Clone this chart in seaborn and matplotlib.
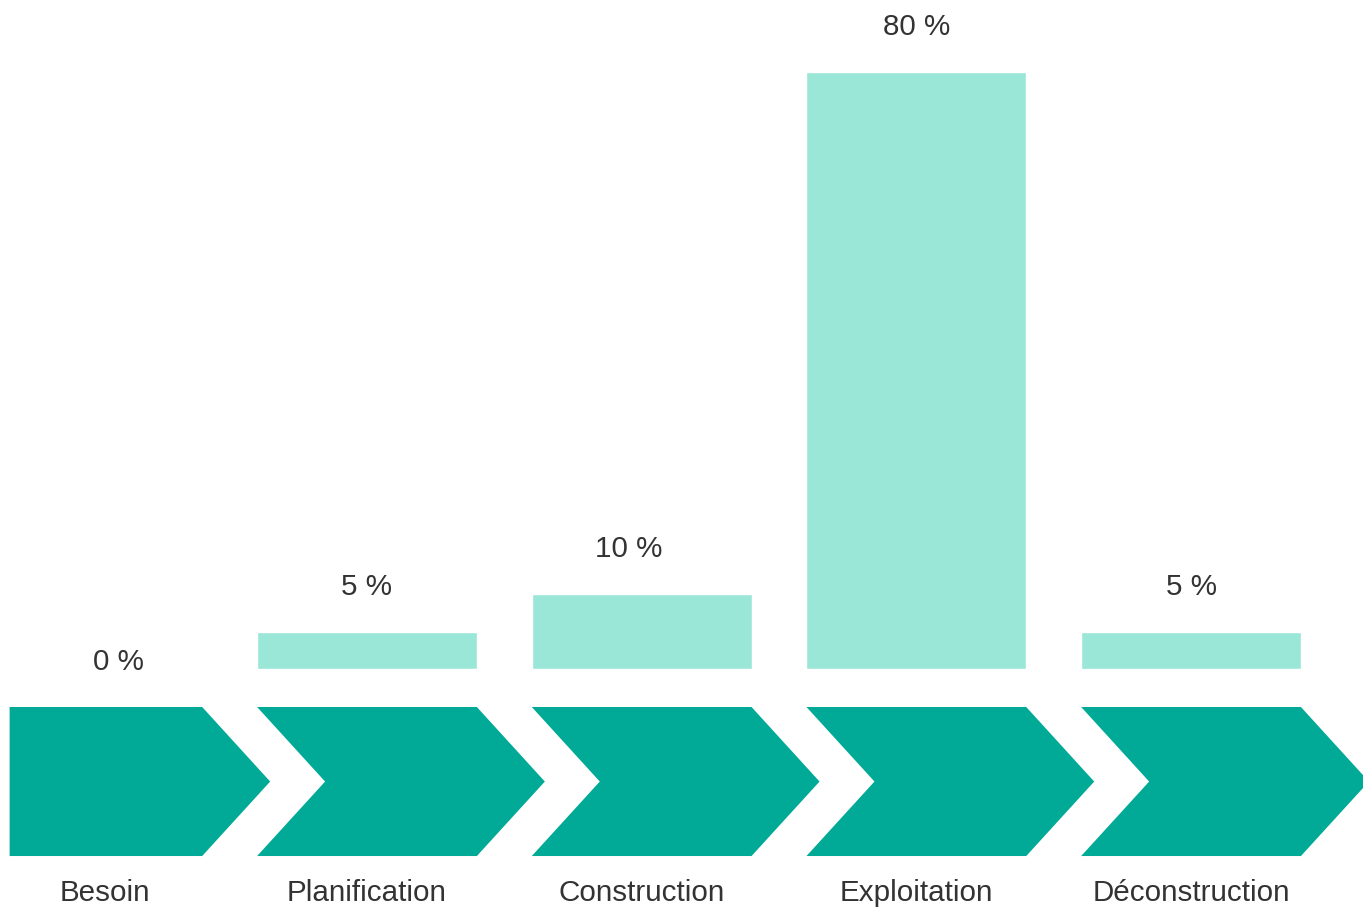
import matplotlib.pyplot as plt
import seaborn as sns
import pandas as pd
from matplotlib.patches import Polygon

# Phases du cycle de vie et part des coûts
phases = ["Besoin", "Planification", "Construction", "Exploitation", "Déconstruction"]
parts = [0, 5, 10, 80, 5]
etiquettes = ["0 %", "5 %", "10 %", "80 %", "5 %"]

bar_color = "#9AE7D8"
arrow_color = "#00AA96"
text_color = "#333333"

sns.set_theme(style="white")
plt.rcParams['font.family'] = ['Liberation Sans', 'DejaVu Sans']

df = pd.DataFrame({"phase": phases, "part": parts})

fig = plt.figure(figsize=(13.63, 9.07), dpi=100)
ax = fig.add_axes([0, 0, 1, 1])
sns.barplot(data=df, x="phase", y="part", order=phases, color=bar_color,
            saturation=1, width=0.8, ax=ax)

# flèches (chevrons) sous les barres
notch = 0.2475
top, bottom, mid = -5.09, -25.06, -15.08
for i in range(len(phases)):
    right = i + 0.4
    if i == 0:
        left = -0.301
        pts = [(left, top), (right, top), (right + notch, mid), (right, bottom), (left, bottom)]
    else:
        left = i - 0.4
        pts = [(left, top), (right, top), (right + notch, mid), (right, bottom),
               (left, bottom), (left + notch, mid)]
    ax.add_patch(Polygon(pts, closed=True, facecolor=arrow_color, edgecolor="none"))

# étiquettes
fs = 21.3
for i, (p, lab, val) in enumerate(zip(phases, etiquettes, parts)):
    x_lab = 0.046 if i == 0 else i
    x_val = 0.094 if i == 0 else i
    if i == 2:
        x_val = 1.953
    y_val = 0.95 if val == 0 else val + 6.05
    ax.text(x_val, y_val, lab, ha="center", va="center", fontsize=fs, color=text_color)
    ax.text(x_lab, -30.0, p, ha="center", va="center", fontsize=fs, color=text_color)

ax.set_xlim(-0.336, 4.626)
ax.set_ylim(-31.89, 89.65)
ax.set_xlabel("")
ax.set_ylabel("")
ax.set_xticks([])
ax.set_yticks([])
sns.despine(ax=ax, left=True, bottom=True)

plt.savefig("out.png", dpi=100)
